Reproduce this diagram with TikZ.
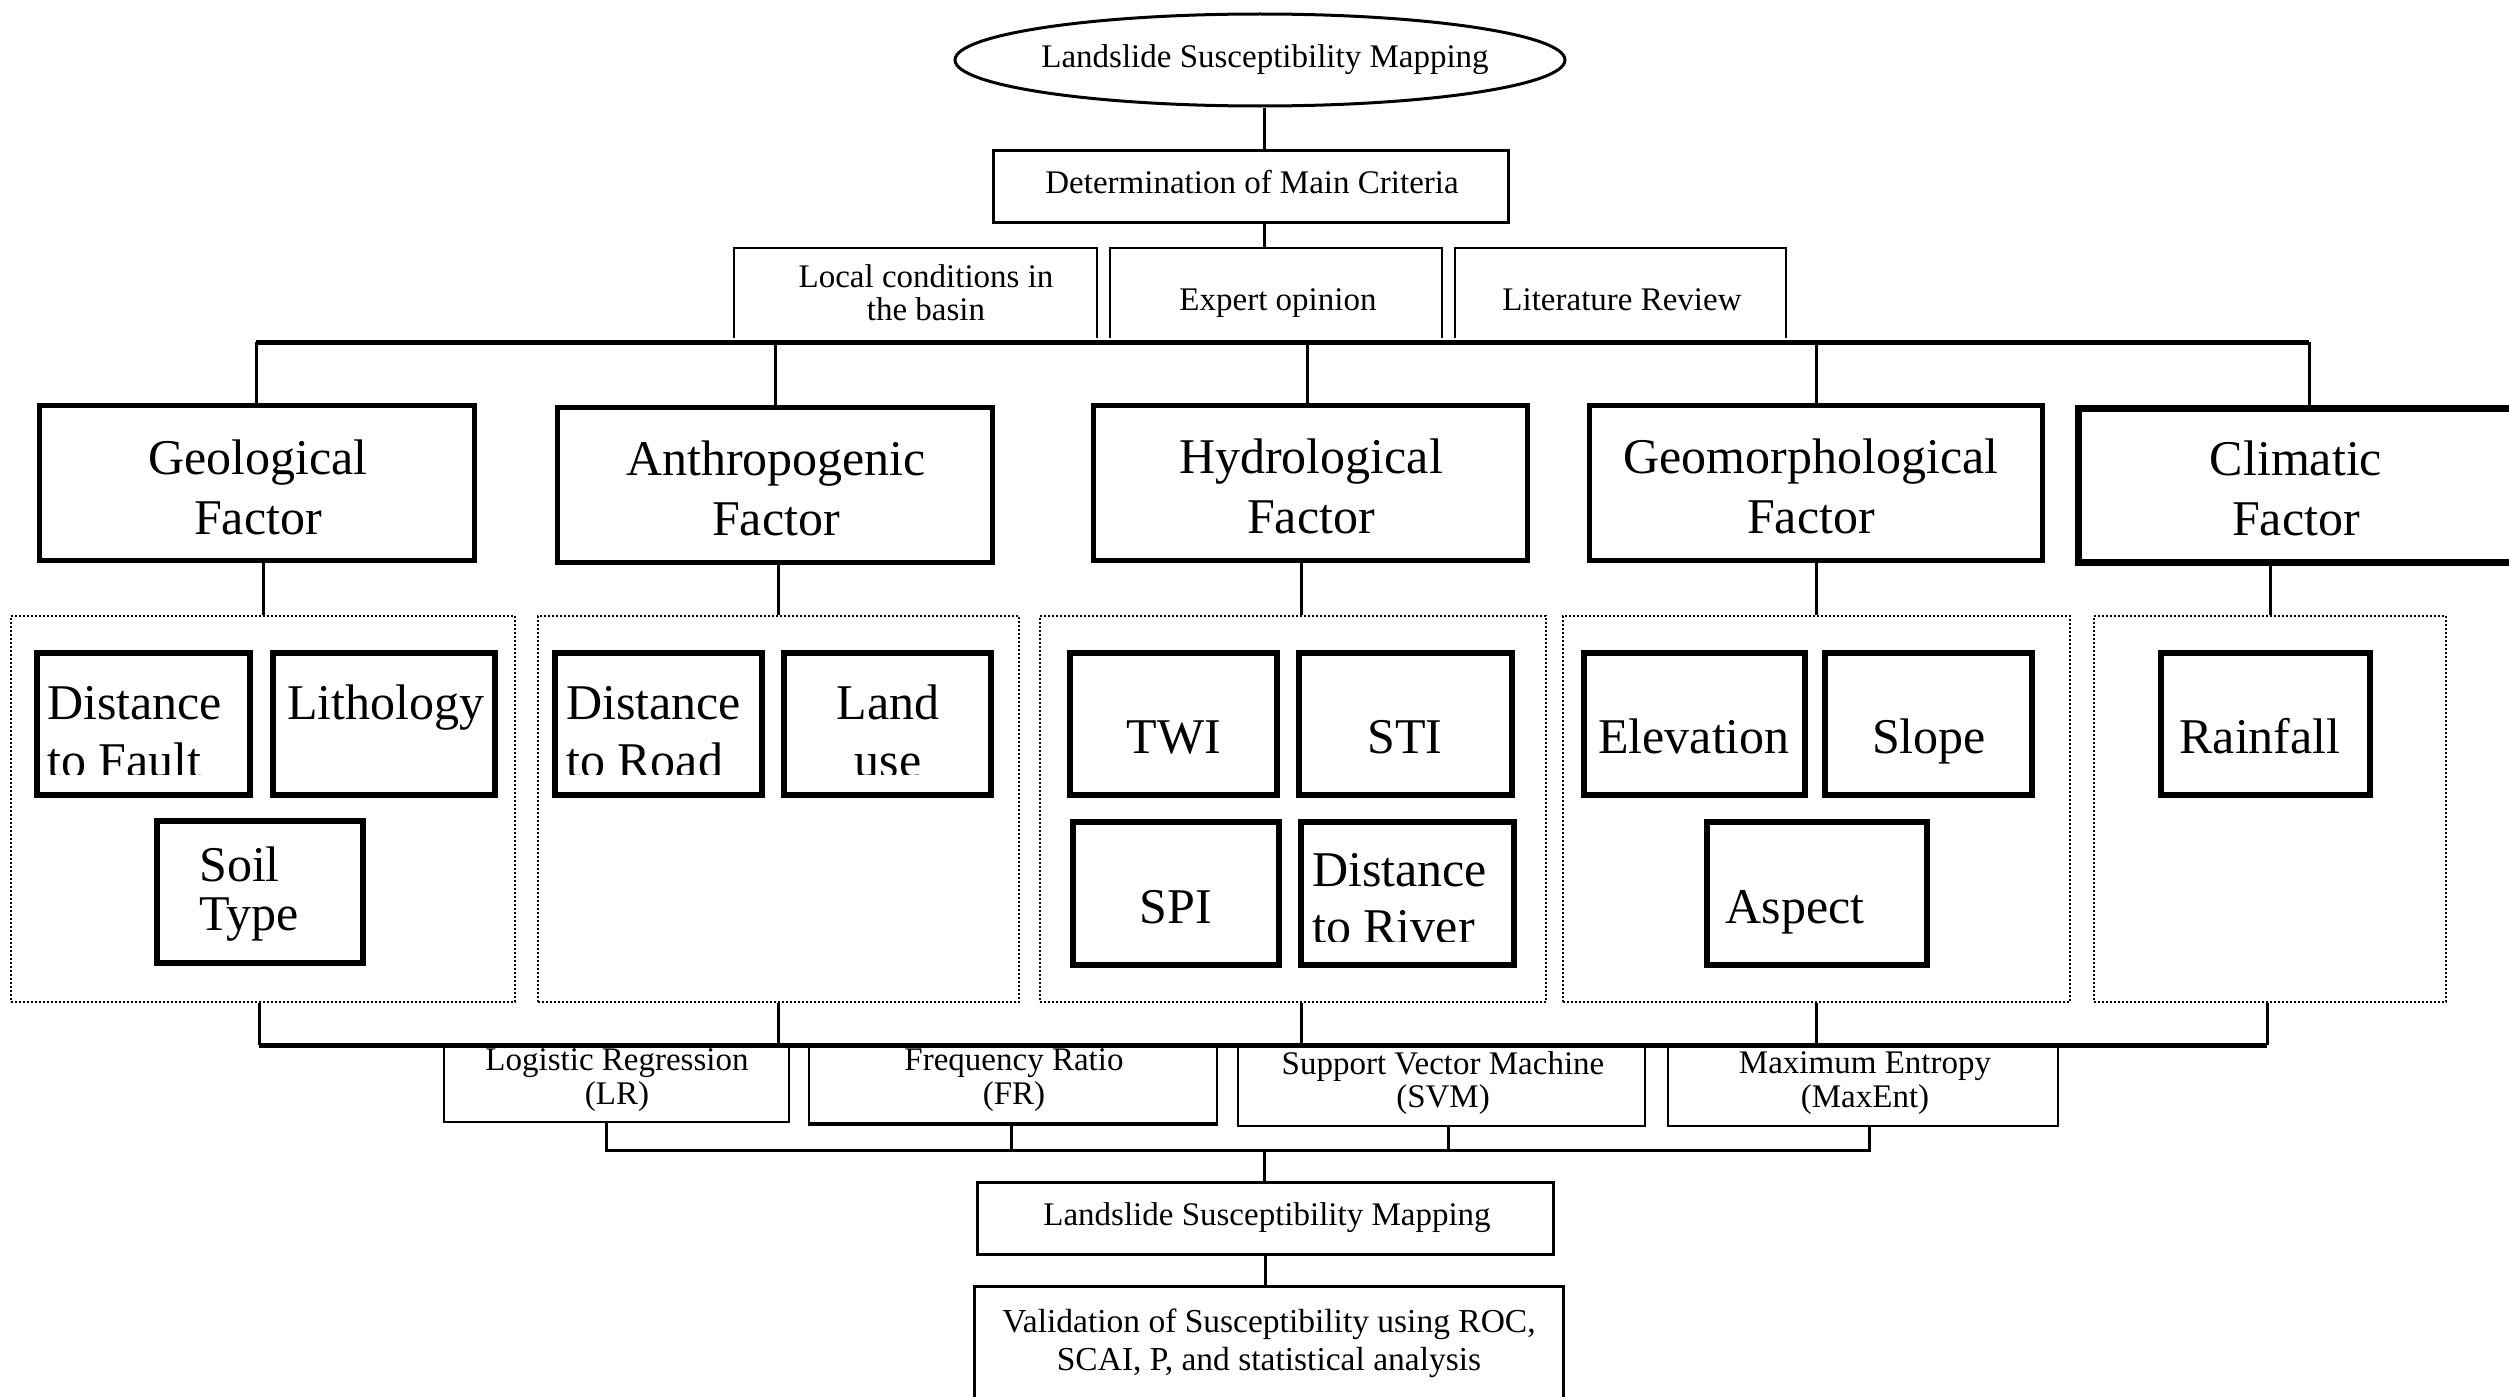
\documentclass[tikz,border=0pt]{standalone}
\usepackage{fontspec}
\setmainfont{Liberation Serif}
\usetikzlibrary{shapes.geometric}
\begin{document}
\begin{tikzpicture}[x=1pt,y=-1pt,
 conn/.style={line width=3pt},
 busline/.style={line width=5pt},
 factorbox/.style={draw, line width=5pt, rectangle, inner sep=0pt},
 itembox/.style={draw, line width=6pt, rectangle, inner sep=0pt},
 groupbox/.style={draw, line width=1.8pt, dash pattern=on 2pt off 2pt, rectangle, inner sep=0pt},
 thinbox/.style={draw, line width=2.5pt, rectangle, inner sep=0pt},
 openbox/.style={rectangle, inner sep=0pt},
 bigtxt/.style={font=\fontsize{50}{60}\selectfont, inner sep=0pt, align=center},
 itemtxt/.style={font=\fontsize{50}{58}\selectfont, inner sep=0pt},
 smalltxt/.style={font=\fontsize{33}{31}\selectfont, inner sep=0pt, align=center},
]
\useasboundingbox (0,0) rectangle (2509,1397);
\clip (0,0) rectangle (2509,1397);
\fill[white] (0,0) rectangle (2509,1397);

% ---------- top part ----------
\node[draw, ellipse, line width=3pt, minimum width=610pt, minimum height=92pt, inner sep=0pt] (ell) at (1260,60) {};
\node[smalltxt, anchor=base] (ellT) at (1265,68) {Landslide Susceptibility Mapping};

\node[thinbox, line width=3.5pt, minimum width=515pt, minimum height=72pt] (det) at (1251,186.5) {};
\node[smalltxt, anchor=base] (detT) at (1252,193) {Determination of Main Criteria};

\node[openbox, minimum width=363pt, minimum height=90pt] (loc) at (915.5,293) {};
\node[openbox, minimum width=332pt, minimum height=90pt] (exp) at (1276,293) {};
\node[openbox, minimum width=331pt, minimum height=90pt] (litrev) at (1620.5,293) {};
\draw[line width=2.5pt] (loc.south west) |- (loc.north east) -- (loc.south east);
\draw[line width=2.5pt] (exp.south west) |- (exp.north east) -- (exp.south east);
\draw[line width=2.5pt] (litrev.south west) |- (litrev.north east) -- (litrev.south east);
\node[smalltxt] (locT) at (926,297.3) {\strut Local conditions in\\\strut the basin};
\node[smalltxt, anchor=base] (expT) at (1278,310) {Expert opinion};
\node[smalltxt, anchor=base] (litrevT) at (1622,310) {Literature Review};

\coordinate (spine) at (1264,0);
\draw[conn] (spine |- ell.south) -- (spine |- det.north);
\draw[conn] (spine |- det.south) -- (spine |- exp.north);

% ---------- factors ----------
\coordinate (b1L) at (256,342);
\coordinate (b1R) at (2309,342);
\draw[busline] (b1L) -- (b1R);

\node[factorbox, minimum width=435pt, minimum height=155pt] (geo) at (257,483) {};
\node[factorbox, minimum width=435pt, minimum height=155pt] (ant) at (775,485) {};
\node[factorbox, minimum width=434pt, minimum height=155pt] (hyd) at (1310.5,483) {};
\node[factorbox, minimum width=453pt, minimum height=155pt] (gmo) at (1816,483) {};
\node[factorbox, line width=7pt, minimum width=435pt, minimum height=154pt] (cli) at (2296,485.5) {};

\node[bigtxt] (geoT) at (258,492) {\strut Geological\\\strut Factor};
\node[bigtxt] (antT) at (776,493) {\strut Anthropogenic\\\strut Factor};
\node[bigtxt] (hydT) at (1311,491) {\strut Hydrological\\\strut Factor};
\node[bigtxt] (gmoT) at (1811,491) {\strut Geomorphological\\\strut Factor};
\node[bigtxt] (cliT) at (2296,493) {\strut Climatic\\\strut Factor};

\coordinate (hydD) at (1307,0);
\draw[conn] (b1L) -- (b1L |- geo.north);
\draw[conn] (ant.north |- b1L) -- (ant.north);
\draw[conn] (hydD |- b1L) -- (hydD |- hyd.north);
\draw[conn] (gmo.north |- b1L) -- (gmo.north);
\draw[conn] (b1R) -- (b1R |- cli.north);

% ---------- groups ----------
\node[groupbox, minimum width=504pt, minimum height=386pt] (g1) at (263,809) {};
\node[groupbox, minimum width=481pt, minimum height=386pt] (g2) at (778.5,809) {};
\node[groupbox, minimum width=506pt, minimum height=386pt] (g3) at (1293,809) {};
\node[groupbox, minimum width=507pt, minimum height=386pt] (g4) at (1816.5,809) {};
\node[groupbox, minimum width=352pt, minimum height=386pt] (g5) at (2270,809) {};

\coordinate (g3D) at (1301,0);
\draw[conn] (g1.north |- geo.south) -- (g1.north);
\draw[conn] (g2.north |- ant.south) -- (g2.north);
\draw[conn] (g3D |- hyd.south) -- (g3D |- g3.north);
\draw[conn] (g4.north |- gmo.south) -- (g4.north);
\draw[conn] (g5.north |- cli.south) -- (g5.north);

% ---------- items ----------
\node[itembox, minimum width=213pt, minimum height=142pt] (dtf) at (143.5,724) {};
\node[itembox, minimum width=222pt, minimum height=142pt] (lit) at (384,724) {};
\node[itembox, minimum width=206pt, minimum height=142pt] (soil) at (260,892) {};
\node[itembox, minimum width=207pt, minimum height=142pt] (dtr) at (658.5,724) {};
\node[itembox, minimum width=207pt, minimum height=142pt] (land) at (887.5,724) {};
\node[itembox, minimum width=207pt, minimum height=142pt] (twi) at (1173.5,724) {};
\node[itembox, minimum width=213pt, minimum height=142pt] (sti) at (1405.5,724) {};
\node[itembox, minimum width=206pt, minimum height=143pt] (spi) at (1176,893.5) {};
\node[itembox, minimum width=213pt, minimum height=143pt] (dri) at (1407.5,893.5) {};
\node[itembox, minimum width=221pt, minimum height=142pt] (ele) at (1694.5,724) {};
\node[itembox, minimum width=207pt, minimum height=142pt] (slo) at (1928.5,724) {};
\node[itembox, minimum width=220pt, minimum height=143pt] (asp) at (1817,893.5) {};
\node[itembox, minimum width=209pt, minimum height=142pt] (rai) at (2265.5,724) {};

\begin{scope}
\clip (34,650) rectangle (1000,774);
\node[itemtxt, align=left, anchor=west] (dtfT) at (47,736.4) {\strut Distance\\\strut to Fault};
\node[itemtxt, align=left, anchor=west] (dtrT) at (566,736.4) {\strut Distance\\\strut to Road};
\node[itemtxt, align=center] (landT) at (888,736.4) {\strut Land\\\strut use};
\end{scope}
\begin{scope}
\clip (1298,819) rectangle (1517,941);
\node[font=\fontsize{50}{57}\selectfont, inner sep=0pt, align=left, anchor=west] (driT) at (1312,903.1) {\strut Distance\\\strut to River};
\end{scope}
\node[itemtxt, anchor=base west] (litT) at (287,719) {Lithology};
\node[font=\fontsize{50}{49}\selectfont, inner sep=0pt, align=left, anchor=west] (soilT) at (199,895.7) {\strut Soil\\\strut Type};
\node[itemtxt, anchor=base] (twiT) at (1174,753) {TWI};
\node[itemtxt, anchor=base] (stiT) at (1405,753) {STI};
\node[itemtxt, anchor=base] (spiT) at (1176,923) {SPI};
\node[itemtxt, anchor=base] (eleT) at (1694,753) {Elevation};
\node[itemtxt, anchor=base] (sloT) at (1929,753) {Slope};
\node[itemtxt, anchor=base] (aspT) at (1795,923) {Aspect};
\node[itemtxt, anchor=base] (raiT) at (2260,753) {Rainfall};

% ---------- models ----------
\coordinate (b2L) at (259,1045);
\coordinate (b2R) at (2267,1045);
\draw[conn] (b2L |- g1.south) -- (b2L);
\draw[conn] (g2.south) -- (g2.south |- b2L);
\draw[conn] (g3D |- g3.south) -- (g3D |- b2L);
\draw[conn] (g4.south) -- (g4.south |- b2L);
\draw[conn] (b2R |- g5.south) -- (b2R);

\node[thinbox, minimum width=345pt, minimum height=77pt] (lr) at (616.5,1083.5) {};
\node[thinbox, minimum width=408pt, minimum height=78pt] (fr) at (1013,1084) {};
\node[thinbox, minimum width=407pt, minimum height=81pt] (svm) at (1441.5,1085.5) {};
\node[thinbox, minimum width=390pt, minimum height=81pt] (me) at (1863,1085.5) {};
\draw[line width=4pt] (fr.south west) -- (fr.south east);
\draw[busline] (b2L) -- (b2R);

\node[smalltxt] (lrT) at (617,1081.3) {\strut Logistic Regression\\\strut (LR)};
\node[smalltxt] (frT) at (1014,1081.3) {\strut Frequency Ratio\\\strut (FR)};
\node[smalltxt] (svmT) at (1443,1084.3) {\strut Support Vector Machine\\\strut (SVM)};
\node[smalltxt] (meT) at (1865,1084.3) {\strut Maximum Entropy\\\strut (MaxEnt)};

\coordinate (b3) at (0,1150);
\coordinate (lrD) at (606,0);
\coordinate (frD) at (1011,0);
\coordinate (svmD) at (1448,0);
\coordinate (meD) at (1869,0);
\draw[conn] (lrD |- lr.south) -- (lrD |- b3) -- (meD |- b3) -- (meD |- me.south);
\draw[conn] (frD |- fr.south) -- (frD |- b3);
\draw[conn] (svmD |- svm.south) -- (svmD |- b3);

% ---------- bottom ----------
\node[thinbox, line width=3pt, minimum width=576pt, minimum height=72pt] (lsm) at (1265.5,1218.5) {};
\node[smalltxt, anchor=base] (lsmT) at (1267,1225) {Landslide Susceptibility Mapping};
\draw[conn] (spine |- b3) -- (spine |- lsm.north);

\node[thinbox, line width=3pt, minimum width=589pt, minimum height=140pt] (val) at (1269,1356) {};
\draw[conn] (lsm.south) -- (lsm.south |- val.north);
\node[font=\fontsize{33.5}{38}\selectfont, inner sep=0pt, align=center] (valT) at (1269,1343.4) {\strut Validation of Susceptibility using ROC,\\\strut SCAI, P, and statistical analysis};
\end{tikzpicture}
\end{document}
